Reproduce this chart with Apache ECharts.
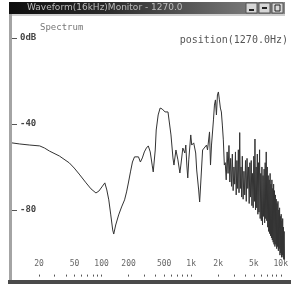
<!DOCTYPE html>
<html><head><meta charset="utf-8">
<script src="https://cdn.jsdelivr.net/npm/echarts@6/dist/echarts.min.js"></script>
<style>html,body{margin:0;padding:0;background:#fff}#c{width:291px;height:284px}</style>
</head><body><div id="c"></div>
<script>
const windowTitle = 'Waveform(16kHz)Monitor - 1270.0';
const panelLabel = 'Spectrum';
const cursorLabel = 'position(1270.0Hz)';

// spectrum: frequency (Hz) and level (dB)
const freqs = [
  10,12.2,15.8,20.4,23.1,26.2,33.8,43.6,49.5,56.2,67.1,76.2,86.5,93.3,100.7,108.7,114.4,120.3,126.6,133.1,
  136.6,143.7,155,167.2,180.5,190,200,210,221,233,245,258,271,285,300,316,332,349,368,377,
  397,407,428,450,474,511,551,580,595,626,642,676,711,748,767,807,849,871,894,916,
  940,989,1014,1067,1123,1152,1212,1243,1275,1341,1411,1484,1522,1602,1643,1686,1773,1818,1865,1913,
  1963,2013,2065,2118,2172,2228,2285,2344,
  2400,2460,2520,2580,2640,2700,2760,2820,2880,2940,3000,3060,3120,3180,3240,3300,3360,3420,3480,3540,
  3600,3660,3720,3800,3880,3960,4040,4120,4200,4280,4360,4440,4520,4600,4680,4760,4840,4920,5000,5080,
  5150,5230,5310,5390,5470,5550,5630,5710,5800,5890,5980,6070,6160,6250,6340,6430,6520,6610,6700,6790,
  6880,6970,7060,7150,7240,7330,7420,7510,7600,7690,7780,7870,7960,8050,8140,8230,8320,8410,8500,8600,
  8700,8800,8900,9000,9100,9200,9300,9400,9500,9600,9700,9800,9900,10000,10100,10200,10300,10400,10500,10600,
  10700,10800,10900,11000
];
const levels = [
  -48.8,-49.3,-49.8,-50.2,-51.2,-52.6,-54.9,-58.1,-60.5,-63.3,-67.4,-70.2,-72.1,-71.2,-69.3,-67.4,-70.7,-75.3,-82.3,-89.3,
  -91.2,-87.0,-82.3,-78.6,-75.3,-71.6,-67.0,-62.3,-57.7,-55.3,-54.4,-55.3,-57.7,-55.8,-53.0,-51.2,-50.2,-53.0,-59.5,-62.3,
  -52.1,-42.8,-35.8,-32.6,-33.0,-34.4,-34.4,-35.3,-45.1,-55.8,-59.1,-52.1,-56.7,-62.8,-59.1,-51.2,-53.5,-49.8,-59.1,-65.1,
  -56.7,-45.1,-49.8,-48.8,-53.5,-61.4,-70.7,-76.3,-68.4,-52.1,-51.2,-49.8,-52.1,-43.7,-59.1,-49.8,-38.1,-31.2,-28.8,-35.8,
  -26.5,-25.1,-28.8,-32.6,-34.4,-40.5,-47.4,-59.1,
  -58,-66,-53,-63,-50,-67,-56,-69,-54,-71,-60,-68,-53,-73,-57,-70,-52,-72,-44,-70,
  -60,-74,-55,-75,-62,-73,-57,-76,-56,-70,-60,-77,-58,-74,-57,-78,-63,-79,-55,-76,
  -47,-80,-60,-79,-54,-82,-58,-81,-52,-84,-63,-85,-60,-87,-64,-83,-61,-86,-58,-84,
  -53,-85,-60,-88,-64,-90,-66,-91,-63,-92,-68,-93,-66,-94,-70,-95,-68,-96,-71,-97,
  -73,-96,-75,-98,-77,-97,-76,-99,-80,-98,-79,-101,-83,-100,-82,-102,-85,-101,-84,-102,
  -88,-103,-90,-103
];

const tickFreqs = [20,50,100,200,500,1000,2000,5000,10000];
const tickLabels = ['20','50','100','200','500','1k','2k','5k','10k'];
const minorTickFreqs = [20,30,40,50,60,70,80,90,100,200,300,400,500,600,700,800,900,1000,2000,3000,4000,5000,6000,7000,8000,9000,10000];
const dbTicks = [0,-40,-80];
const dbTickLabels = ['0dB','-40','-80'];

const lg = v => Math.log10(v);
const chart = echarts.init(document.getElementById('c'), null, {renderer:'canvas'});
const mono = 'DejaVu Sans Mono';

chart.setOption({
  animation:false,
  backgroundColor:'#ffffff',
  grid:{left:12, right:3, top:38, bottom:7.4},
  xAxis:{
    type:'value', min:1, max:lg(11025), position:'bottom',
    axisLine:{show:false, onZero:false}, splitLine:{show:false},
    axisTick:{show:true, inside:true, length:2, customValues:minorTickFreqs.map(lg), lineStyle:{color:'#555'}},
    axisLabel:{show:true, inside:true, margin:9, fontSize:8, fontFamily:mono, color:'#666',
      customValues:tickFreqs.map(lg),
      formatter:v=>{const i=tickFreqs.findIndex(f=>Math.abs(lg(f)-v)<1e-6);return i>=0?tickLabels[i]:'';}}
  },
  yAxis:{
    type:'value', min:-111, max:0,
    axisLine:{show:false, onZero:false}, splitLine:{show:false},
    axisTick:{show:true, inside:true, length:5, customValues:dbTicks, lineStyle:{color:'#555'}},
    axisLabel:{show:true, inside:true, margin:8, fontSize:9, fontWeight:'bold', fontFamily:mono, color:'#444',
      customValues:dbTicks,
      formatter:v=>{const i=dbTicks.indexOf(v);return i>=0?dbTickLabels[i]:'';}}
  },
  series:[{
    type:'line', showSymbol:false, symbol:'none',
    lineStyle:{width:1, color:'#333'},
    data:freqs.map((f,i)=>[lg(f), levels[i]])
  }],
  graphic:[
    {type:'rect', shape:{x:9,y:2,width:276,height:12},
     style:{fill:new echarts.graphic.LinearGradient(0,0,1,0,[{offset:0,color:'#0e0e0e'},{offset:0.35,color:'#2a2a2a'},{offset:0.8,color:'#6e6e6e'},{offset:1,color:'#8a8a8a'}])}},
    {type:'text', x:27, y:8, style:{text:windowTitle, fill:'#bdbdbd', font:'9px "DejaVu Sans"', verticalAlign:'middle'}},
    {type:'rect', shape:{x:246,y:3,width:11,height:10}, style:{fill:'#d6d6d6', stroke:'#555', lineWidth:1}},
    {type:'rect', shape:{x:259,y:3,width:11,height:10}, style:{fill:'#d6d6d6', stroke:'#555', lineWidth:1}},
    {type:'rect', shape:{x:272,y:3,width:11,height:10}, style:{fill:'#d6d6d6', stroke:'#555', lineWidth:1}},
    {type:'rect', shape:{x:249,y:9,width:5,height:2}, style:{fill:'#222'}},
    {type:'rect', shape:{x:262,y:7,width:5,height:2}, style:{fill:'#222'}},
    {type:'rect', shape:{x:275,y:5,width:5,height:6}, style:{fill:'none', stroke:'#222', lineWidth:1}},
    {type:'rect', shape:{x:9,y:14,width:276,height:2}, style:{fill:'#cfcfcf'}},
    {type:'rect', shape:{x:9,y:14,width:3,height:266}, style:{fill:'#a4a4a4'}},
    {type:'rect', shape:{x:8,y:280,width:283,height:4}, style:{fill:'#4a4a4a'}},
    {type:'text', x:40, y:28, style:{text:panelLabel, fill:'#777', font:'9px "DejaVu Sans Mono"', verticalAlign:'middle'}},
    {type:'text', x:288, y:40, style:{text:cursorLabel, fill:'#555', font:'10px "DejaVu Sans Mono"', align:'right', verticalAlign:'middle'}}
  ]
});
</script>
</body></html>
